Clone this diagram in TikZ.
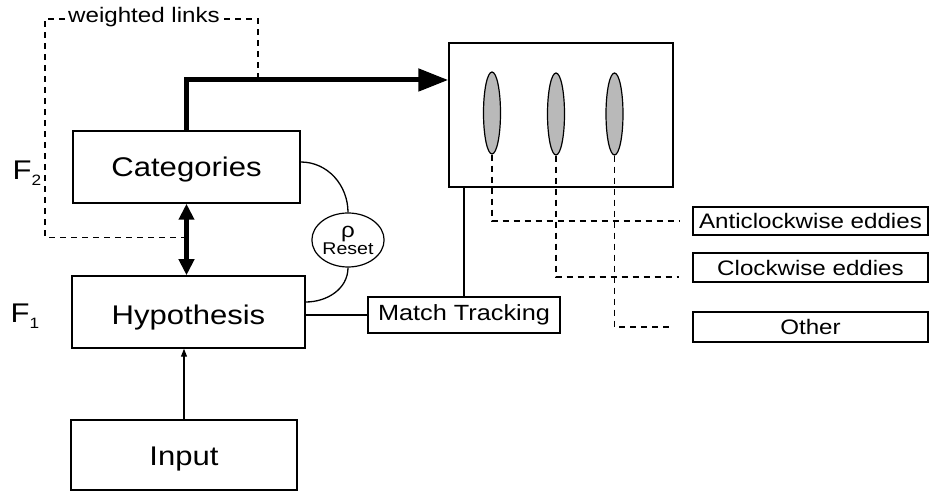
\documentclass[tikz,border=0pt]{standalone}
\usepackage{fontspec}
\setmainfont{Liberation Sans}[FakeStretch=1.15]
\usepackage{tikz}
\usetikzlibrary{positioning,arrows.meta,calc,shapes.geometric}
\newcommand\lowsub[1]{\raisebox{-0.45ex}{\fontsize{15}{15}\selectfont #1}}
\tikzset{
  box/.style={draw,line width=1.5pt,inner sep=0pt,font=\fontsize{27}{30}\selectfont},
  tag/.style={draw,line width=1.3pt,inner sep=0pt,font=\fontsize{21}{24}\selectfont},
  lyr/.style={font=\fontsize{27}{30}\selectfont},
  eddy/.style={ellipse,draw,line width=1.2pt,fill=gray!55,minimum width=17pt,minimum height=82pt,inner sep=0pt},
  wire/.style={line width=1.3pt},
  dsh/.style={line width=1.1pt,dash pattern=on 6pt off 5pt},
  fat/.style={line width=5pt},
}

\begin{document}
\begin{tikzpicture}[x=1pt,y=1pt]
  \useasboundingbox (0,0) rectangle (929,492);
  \node[box,minimum width=227pt,minimum height=72pt,text height=24pt] (cat) at (186.5,325) {Categories};
  \node[box,minimum width=233pt,minimum height=72pt,text height=30pt] (hyp) at (188.5,180) {Hypothesis};
  \node[box,minimum width=226pt,minimum height=70pt,text height=26pt] (inp) at (184,37) {Input};
  \node[draw,line width=1.5pt,minimum width=224pt,minimum height=144pt] (disp) at (561,377) {};
  \node[eddy] (e1) at (492,379) {};
  \node[eddy] (e2) at (556,378) {};
  \node[eddy] (e3) at (614.5,378) {};
  \node[ellipse,draw,line width=1.2pt,minimum width=64pt,minimum height=54pt,inner sep=0pt,
        align=center,font=\fontsize{17}{14}\selectfont] (rst) at (348,252) {{\fontsize{21}{14}\selectfont ρ}\\Reset};
  \node[tag,minimum width=192pt,minimum height=36pt,font=\fontsize{22}{24}\selectfont] (mt) at (464,177) {Match Tracking};
  \node[tag,minimum width=235pt,minimum height=28pt] (anti) at (810.5,271) {Anticlockwise eddies};
  \node[tag,minimum width=235pt,minimum height=29pt] (clk) at (810.5,224.5) {Clockwise eddies};
  \node[tag,minimum width=235pt,minimum height=30pt] (oth) at (810.5,165) {Other};
  \node[lyr] (f2) at (27,319) {F\lowsub{2}};
  \node[lyr] (f1) at (25,176) {F\lowsub{1}};

  \coordinate (wa) at ($(cat.south)!0.47!(cat.south |- hyp.north)$);
  \coordinate (wb) at (258,414);
  \draw[dsh] (wa) -| (45,473) -| (wb);
  \node[font=\fontsize{21}{24}\selectfont,fill=white,inner sep=2pt] (wl) at (144,475) {weighted links};

  \draw[fat,-{Triangle[length=30pt,width=22pt]}] (cat.north) |- ([yshift=35pt]disp.west);
  \draw[fat,{Triangle[length=16pt,width=15pt]}-{Triangle[length=16pt,width=15pt]}] (cat.south) -- (cat.south |- hyp.north);
  \draw[wire,-{Triangle[length=8pt,width=6pt]}] (inp.north) -- (inp.north |- hyp.south);

  \draw[wire] ([yshift=5pt]cat.east) to[out=0,in=90] (rst.north);
  \draw[wire] (rst.south) to[out=-90,in=0] ([yshift=10pt]hyp.east);
  \draw[wire] (hyp.east |- mt.west) -- (mt.west);
  \draw[wire] (mt.north) -- (mt.north |- disp.south);

  \draw[dsh] (e1.south) |- ([xshift=-13pt]anti.west);
  \draw[dsh] (e2.south) |- ([xshift=-13pt,yshift=-9.5pt]clk.west);
  \draw[dsh] (e3.south) |- ([xshift=-22pt]oth.west);
\end{tikzpicture}
\end{document}
